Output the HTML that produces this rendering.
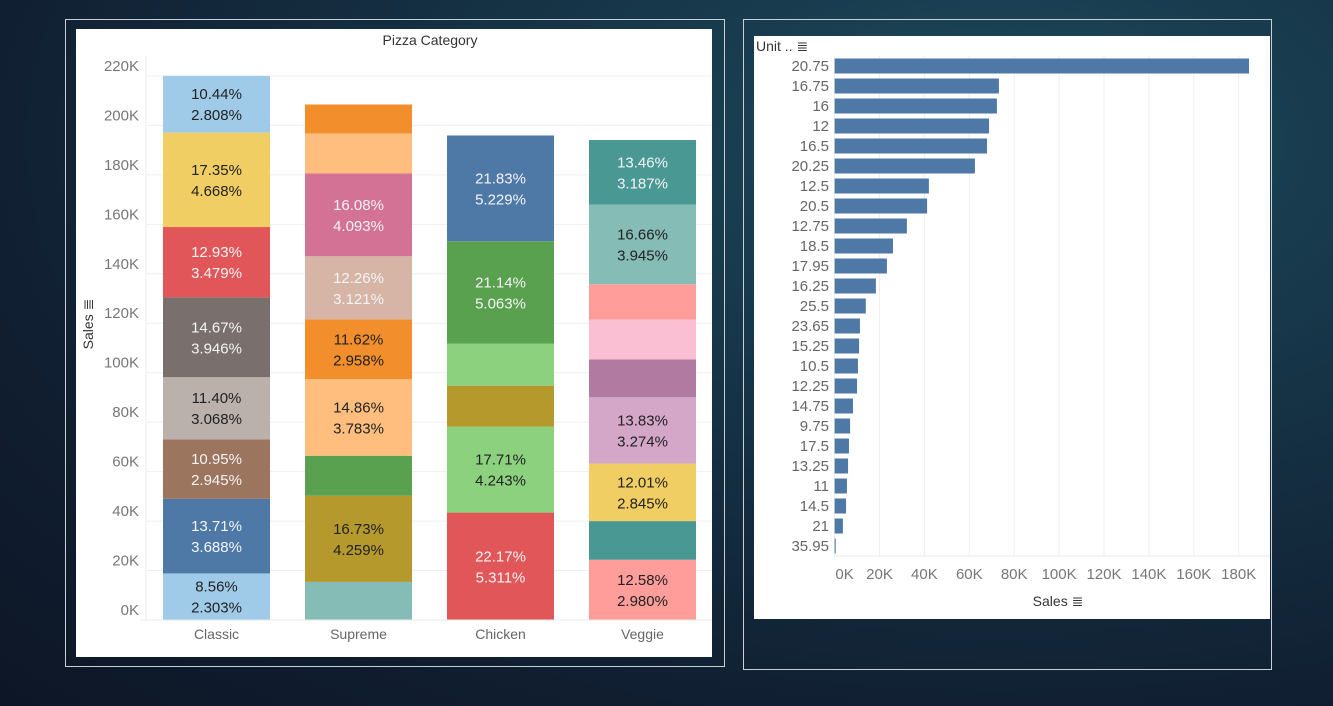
<!DOCTYPE html>
<html><head><meta charset="utf-8">
<style>
html,body{margin:0;padding:0;width:1333px;height:706px;overflow:hidden;}
body{background:radial-gradient(ellipse at 75% 20%,#1d4a5c 0%,#163447 35%,#101e30 75%,#0d1626 100%);font-family:"Liberation Sans",sans-serif;}
svg{position:absolute;left:0;top:0;}
</style></head>
<body>
<svg id="chart" width="1333" height="706">
  <rect x="65.5" y="19.5" width="659" height="647" fill="none" stroke="#c8d0d6" stroke-width="1"/>
  <rect x="76" y="29" width="636" height="628" fill="#fff"/>
  <rect x="743.5" y="19.5" width="528" height="650" fill="none" stroke="#c8d0d6" stroke-width="1"/>
  <rect x="754" y="36" width="516" height="583" fill="#fff"/>
  <text x="430" y="45" font-size="14" fill="#333" text-anchor="middle">Pizza Category</text>
  <g id="left"></g>
  <g id="right"></g>
</svg>
<script>
// ---- Left chart data (pct of grand total per segment, bottom->top)
const categories = ["Classic","Supreme","Chicken","Veggie"];
const grandTotalK = 817.86;
const classicPct = [2.303,3.688,2.945,3.068,3.946,3.479,4.668,2.808];
const supremePct = [1.883,4.259,1.98,3.783,2.958,3.121,4.093,1.98,1.43];
const chickenPct = [5.311,4.243,2.03,2.08,5.063,5.229];
const veggiePct = [2.980,1.91,2.845,3.274,1.87,1.98,1.74,3.945,3.187];
const classicShare = ["8.56%","13.71%","10.95%","11.40%","14.67%","12.93%","17.35%","10.44%"];
const supremeShare = ["","16.73%","","14.86%","11.62%","12.26%","16.08%","",""];
const chickenShare = ["22.17%","17.71%","","","21.14%","21.83%"];
const veggieShare = ["12.58%","","12.01%","13.83%","","","","16.66%","13.46%"];
const yTicks = [0,20,40,60,80,100,120,140,160,180,200,220];

const colClassic=["#a0cbe8","#4e79a7","#9c755f","#bab0ac","#79706e","#e15759","#f1ce63","#a0cbe8"];
const colSupreme=["#86bcb6","#b6992d","#59a14f","#ffbe7d","#f28e2b","#d7b5a6","#d37295","#ffbe7d","#f28e2b"];
const colChicken=["#e15759","#8cd17d","#b6992d","#8cd17d","#59a14f","#4e79a7"];
const colVeggie=["#ff9d9a","#499894","#f1ce63","#d4a6c8","#b07aa1","#fabfd2","#ff9d9a","#86bcb6","#499894"];
const darkBg={"#4e79a7":1,"#9c755f":1,"#79706e":1,"#e15759":1,"#d37295":1,"#59a14f":1,"#499894":1,"#86bcb6":0,"#d7b5a6":1};

const NS="http://www.w3.org/2000/svg";
function mk(tag,attrs,parent){const e=document.createElementNS(NS,tag);for(const k in attrs)e.setAttribute(k,attrs[k]);parent.appendChild(e);return e;}
const L=document.getElementById('left');
const y0=620, pxK=2.473;
const yS=v=>y0-v*pxK;
const xBand=i=>163+i*142, bw=107;

yTicks.forEach(t=>{
  const g=mk('line',{x1:146,x2:712,y1:yS(t),y2:yS(t),stroke:"#efefef","stroke-width":1},L);
  
  
  const tx=mk('text',{x:139,y:yS(t)-5,"font-size":15,fill:"#777","text-anchor":"end"},L);
  tx.textContent=t+"K";
  
  
});
const ax=mk('line',{x1:146,x2:146,y1:56,y2:620,stroke:"#eee"},L);


const yt=mk('text',{x:0,y:0,"font-size":14,fill:"#333","text-anchor":"middle",transform:"translate(93,324) rotate(-90)"},L);
yt.textContent="Sales \u2263";



const series=[[classicPct,classicShare,colClassic],[supremePct,supremeShare,colSupreme],[chickenPct,chickenShare,colChicken],[veggiePct,veggieShare,colVeggie]];
series.forEach((s,i)=>{
  let cum=0;
  s[0].forEach((p,j)=>{
    const v=p/100*grandTotalK;
    const yt1=yS(cum+v), yb=yS(cum);
    const r=mk('rect',{x:xBand(i),y:yt1,width:bw,height:yb-yt1,fill:s[2][j]},L);
    
    
    if(s[1][j]){
      const c=darkBg[s[2][j]]?"#f4f4f4":"#222";
      const cy=(yt1+yb)/2;
      const t1=mk('text',{x:xBand(i)+bw/2,y:cy-5,"font-size":15,fill:c,"text-anchor":"middle"},L);
      t1.textContent=s[1][j];
      
      
      const t2=mk('text',{x:xBand(i)+bw/2,y:cy+16,"font-size":15,fill:c,"text-anchor":"middle"},L);
      t2.textContent=p.toFixed(3)+"%";
      
      
    }
    cum+=v;
  });
  const cl=mk('text',{x:xBand(i)+bw/2,y:639,"font-size":14,fill:"#666","text-anchor":"middle"},L);
  cl.textContent=categories[i];
  
  
});
const base=mk('line',{x1:140,x2:712,y1:620,y2:620,stroke:"#e8e8e8"},L);



// ---- Right chart data
const unitPrices=["20.75","16.75","16","12","16.5","20.25","12.5","20.5","12.75","18.5","17.95","16.25","25.5","23.65","15.25","10.5","12.25","14.75","9.75","17.5","13.25","11","14.5","21","35.95"];
const unitSales=[184.6,73.2,72.3,68.8,67.9,62.5,42,41.2,32.2,26,23.3,18.4,13.9,11.3,10.9,10.4,10,8.2,6.9,6.4,6,5.5,5.1,3.7,0.5];
const xTicks=[0,20,40,60,80,100,120,140,160,180];
const R=document.getElementById('right');
const x0=834.6, pxR=2.245;
const xS=v=>x0+v*pxR;
xTicks.forEach(t=>{
  const g=mk('line',{x1:xS(t),x2:xS(t),y1:56,y2:556,stroke:"#efefef"},R);
  
  
  const tx=mk('text',{x:t===0?xS(t)+10:xS(t),y:579,"font-size":15,fill:"#777","text-anchor":"middle"},R);
  tx.textContent=t+"K";
  
  
});
const bl=mk('line',{x1:834,x2:1270,y1:556,y2:556,stroke:"#e8e8e8"},R);


unitPrices.forEach((u,i)=>{
  const cy=66+i*20;
  const b=mk('rect',{x:xS(0),y:cy-7.5,width:Math.max(1,xS(unitSales[i])-xS(0)),height:15,fill:"#4e79a7"},R);
  
  
  const t=mk('text',{x:829,y:cy+5,"font-size":15,fill:"#666","text-anchor":"end"},R);
  t.textContent=u;
  
  
});
const hdr=mk('text',{x:756,y:51,"font-size":14,fill:"#333"},R);
hdr.textContent="Unit .. \u2263";


const xt=mk('text',{x:1058,y:606,"font-size":14,fill:"#333","text-anchor":"middle"},R);
xt.textContent="Sales \u2263";


</script>
</body></html>
